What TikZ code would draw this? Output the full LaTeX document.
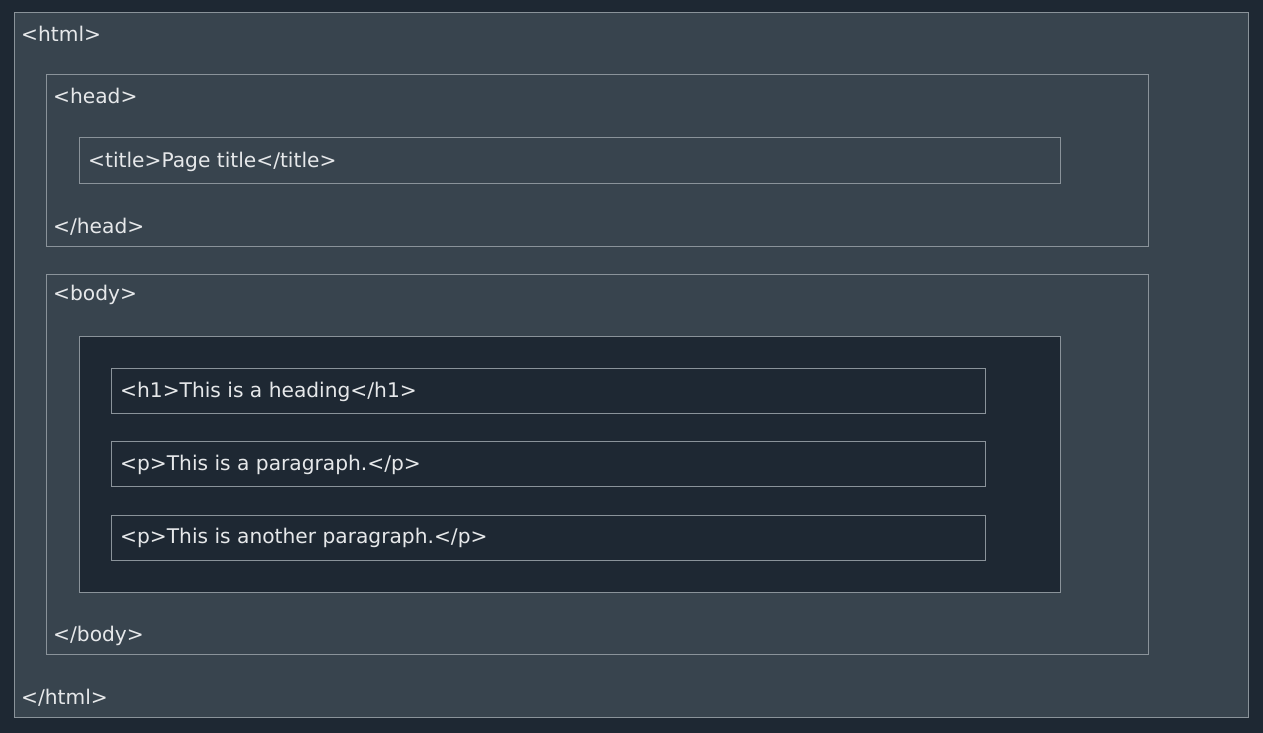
\documentclass[tikz,border=0pt]{standalone}
\usepackage{fontspec}
\setmainfont{DejaVu Sans}
\definecolor{bgdark}{HTML}{1E2833}
\definecolor{boxgray}{HTML}{38444E}
\definecolor{edge}{HTML}{8A939A}
\definecolor{txt}{HTML}{E6E8EA}
\begin{document}
\begin{tikzpicture}[x=1pt,y=-1pt,
  frame/.style={draw=edge,line width=1pt,inner sep=0pt,outer sep=0pt,anchor=north west},
  graybox/.style={frame,fill=boxgray},
  darkbox/.style={frame,fill=bgdark},
  tag/.style={text=txt,anchor=west,inner sep=0pt,font=\fontsize{20.2}{24}\selectfont}]
\fill[bgdark] (0,0) rectangle (1263,733);
\useasboundingbox (0,0) rectangle (1263,733);
\node[graybox,minimum width=1234pt,minimum height=704pt] (html) at (14,13) {};
\node[graybox,minimum width=1102pt,minimum height=171pt] (head) at (46,75) {};
\node[graybox,minimum width=981pt,minimum height=45pt] (title) at (79,138) {};
\node[graybox,minimum width=1102pt,minimum height=380pt] (body) at (46,274) {};
\node[darkbox,minimum width=981pt,minimum height=256pt] (main) at (79,336) {};
\node[darkbox,minimum width=874pt,minimum height=45pt] (h1) at (111,368) {};
\node[darkbox,minimum width=874pt,minimum height=45pt] (p1) at (111,441) {};
\node[darkbox,minimum width=874pt,minimum height=45pt] (p2) at (111,515) {};
\node[tag] (thtml) at (21,34) {<html>};
\node[tag] (thead) at (53,96) {<head>};
\node[tag] (ttitle) at (88,162) {<title>Page title</title>};
\node[tag] (tendhead) at (53,227) {</head>};
\node[tag] (tbody) at (53,295) {<body>};
\node[tag] (th1) at (120,392) {<h1>This is a heading</h1>};
\node[tag] (tp1) at (120,465) {<p>This is a paragraph.</p>};
\node[tag] (tp2) at (120,538) {<p>This is another paragraph.</p>};
\node[tag] (tendbody) at (53,636) {</body>};
\node[tag] (tendhtml) at (21,698) {</html>};
\end{tikzpicture}
\end{document}
